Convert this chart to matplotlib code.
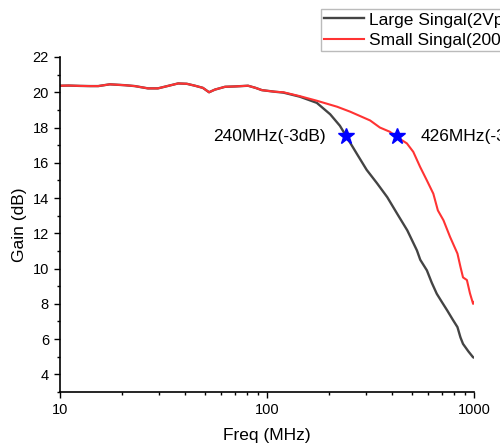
import matplotlib
matplotlib.use("Agg")
import matplotlib.pyplot as plt
from matplotlib.ticker import MultipleLocator, LogLocator, NullFormatter, FixedLocator, FixedFormatter

plt.rcParams["font.family"] = ["Liberation Sans", "DejaVu Sans"]

# ── Measured gain curves ──
freq_small = [10, 11, 12.5, 14, 15.3, 17.4, 20.6, 23, 26.6, 29.7, 33, 37.2, 41, 44.9,
              49, 52.5, 56, 62.7, 70, 81, 88, 94.5, 109, 120, 144, 174, 218, 252, 315,
              351, 392, 426, 474, 509, 549, 592, 636, 669, 712, 766, 800, 832, 860, 885,
              924, 956, 990, 1000]
gain_small = [20.37, 20.38, 20.36, 20.35, 20.35, 20.45, 20.4, 20.35, 20.22, 20.22, 20.35,
              20.5, 20.48, 20.37, 20.25, 20.0, 20.15, 20.31, 20.33, 20.37, 20.25, 20.12,
              20.03, 20.0, 19.78, 19.52, 19.18, 18.9, 18.4, 18.0, 17.76, 17.45, 17.1, 16.62,
              15.77, 15.0, 14.25, 13.3, 12.74, 11.8, 11.3, 10.85, 10.1, 9.5, 9.35, 8.6,
              8.0, 8.1]

freq_large = [10, 11, 12.5, 14, 15.3, 17.4, 20.6, 23, 26.6, 29.7, 33, 37.2, 41, 44.9,
              49, 52.5, 56, 62.7, 70, 81, 88, 94.5, 109, 120, 144, 174, 202, 225, 243,
              272, 303, 340, 381, 426, 476, 530, 550, 592, 625, 661, 700, 742, 790, 832,
              860, 885, 940, 990, 1000]
gain_large = [20.37, 20.38, 20.36, 20.35, 20.35, 20.45, 20.4, 20.35, 20.22, 20.22, 20.35,
              20.5, 20.48, 20.37, 20.25, 20.0, 20.15, 20.31, 20.33, 20.37, 20.25, 20.12,
              20.03, 19.98, 19.75, 19.4, 18.75, 18.1, 17.45, 16.5, 15.6, 14.84, 14.05,
              13.1, 12.17, 11.03, 10.5, 9.9, 9.2, 8.57, 8.1, 7.63, 7.1, 6.68, 6.1, 5.73,
              5.3, 4.97, 4.95]

# -3dB points
bw_freq = [240, 426]
bw_gain = [17.5, 17.5]
bw_labels = ["240MHz(-3dB)", "426MHz(-3dB)"]

x_ticks = [10, 100, 1000]
x_tick_labels = ["10", "100", "1000"]

fig = plt.figure(figsize=(5.0, 4.47), dpi=100)
ax = fig.add_axes([0.12, 0.123, 0.828, 0.7495])

ax.plot(freq_large, gain_large, color="#444444", linewidth=1.7, label="Large Singal(2Vpp)")
ax.plot(freq_small, gain_small, color="#ff3333", linewidth=1.5, label="Small Singal(200mVpp)")
ax.plot(bw_freq, bw_gain, linestyle="none", marker="*", markersize=12, color="#0000ff")

ax.text(bw_freq[0] * 0.8, bw_gain[0], bw_labels[0], ha="right", va="center", fontsize=12.5)
ax.text(bw_freq[1] * 1.3, bw_gain[1], bw_labels[1], ha="left", va="center", fontsize=12.5,
        clip_on=False)

ax.set_xscale("log")
ax.set_xlim(10, 1000)
ax.set_ylim(3, 22)
ax.xaxis.set_major_locator(FixedLocator(x_ticks))
ax.xaxis.set_major_formatter(FixedFormatter(x_tick_labels))
ax.xaxis.set_minor_locator(LogLocator(base=10, subs=range(2, 10)))
ax.xaxis.set_minor_formatter(NullFormatter())
ax.yaxis.set_major_locator(FixedLocator(range(4, 23, 2)))
ax.yaxis.set_minor_locator(MultipleLocator(1))

for side in ("top", "right"):
    ax.spines[side].set_visible(False)
for side in ("left", "bottom"):
    ax.spines[side].set_linewidth(1.2)

ax.tick_params(which="major", direction="out", length=4.5, width=1.0, labelsize=10.5)
ax.tick_params(which="minor", direction="out", length=2.5, width=1.0)

ax.set_xlabel("Freq (MHz)", fontsize=12.5, labelpad=8)
ax.set_ylabel("Gain (dB)", fontsize=12.5, labelpad=4)

leg = fig.legend(loc="upper left", bbox_to_anchor=(0.642, 0.98), borderaxespad=0,
                 fontsize=12.5, frameon=True, fancybox=False, edgecolor="#aaaaaa",
                 handlelength=2.3, handletextpad=0.25, borderpad=0.2, labelspacing=0.3)
leg.get_frame().set_linewidth(1.0)

fig.savefig("out.png", dpi=100)
